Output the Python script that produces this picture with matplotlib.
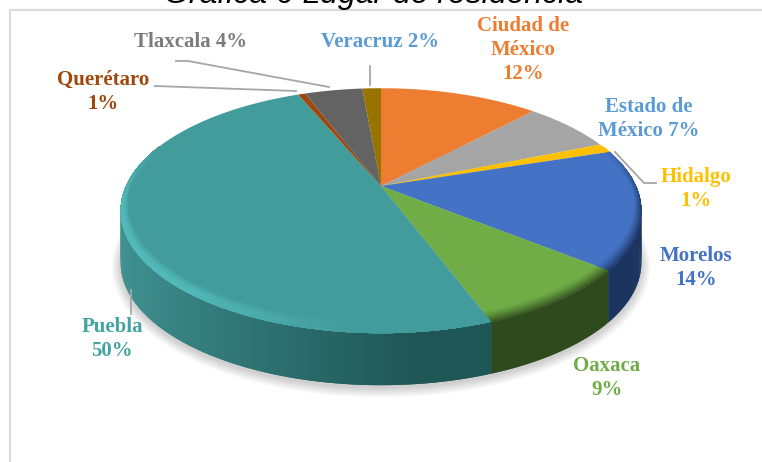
import numpy as np
import matplotlib
matplotlib.use("Agg")
import matplotlib.pyplot as plt
from matplotlib.colors import to_rgb

# slice sizes as measured on the picture, clockwise from 12 o'clock
places = ["Ciudad de\nMéxico\n12%", "Estado de\nMéxico 7%", "Hidalgo\n1%", "Morelos\n14%",
          "Oaxaca\n9%", "Puebla\n50%", "Querétaro\n1%", "Tlaxcala 4%", "Veracruz 2%"]
sizes = [12.0, 6.8, 1.2, 15.8, 8.5, 49.4, 0.55, 4.35, 1.4]
colors = ["#ed7d31", "#a5a5a5", "#ffc000", "#4472c4", "#70ad47", "#439c9c", "#9e480e", "#636363", "#997300"]
side_colors = ["#8a4a1c", "#606060", "#94700a", "#1c3560", "#2f4a1d", "#1f5656", "#5c2a08", "#3a3a3a", "#594300"]
label_colors = ["#ed7d31", "#5b9bd5", "#ffc000", "#4472c4", "#70ad47", "#43a2a2", "#9e480e", "#7b7b7b", "#5b9bd5"]

label_x = [523, 649, 696, 696, 607, 112, 103, 191, 380]
label_y = [50, 119, 189, 268, 378, 339, 92, 42, 42]

cx, cy = 381, 186
R, b, k = 255, 117.5, 0.2017
depth = 52


def project(a, r=1.0, drop=0):
    x = r * np.sin(a)
    y = r * np.cos(a)
    w = 1 + k * y
    return cx + R * x / w, cy - b * y / w + drop


fig = plt.figure(figsize=(7.62, 4.62), dpi=100)
ax = fig.add_axes([0, 0, 1, 1])
ax.set_xlim(0, 762)
ax.set_ylim(462, 0)
ax.axis("off")

# chart frame, cut by the page at the bottom
ax.plot([10, 10, 762], [462, 10, 10], color="#dcdcdc", lw=1.6, solid_joinstyle="miter", zorder=1)

# soft shadow under the pie
t = np.linspace(0, 2 * np.pi, 300)
sx, sy = project(t, 1.0, depth)
mx, my = sx.mean(), sy.mean()
for grow in np.linspace(1.07, 1.0, 12):
    ax.fill(mx + (sx - mx) * (1 + (grow - 1) * 0.5), my + (sy - my) * grow + 3,
            color="#000000", alpha=0.016, lw=0, zorder=2)

edges = np.cumsum([0] + sizes) / sum(sizes) * 2 * np.pi

# side wall, only the part that faces the viewer
for i in range(len(sizes)):
    a0, a1 = edges[i], edges[i + 1]
    steps = max(int((a1 - a0) / 0.01), 2)
    aa = np.linspace(a0, a1, steps + 1)
    for j in range(steps):
        mid = (aa[j] + aa[j + 1]) / 2
        if np.cos(mid) > 0.12:
            continue
        pair = aa[j:j + 3]
        xa, ya = project(pair)
        xb, yb = project(pair, 1.0, depth)
        col = np.array(to_rgb(side_colors[i]))
        if i == 5:
            # Puebla wall goes from mid teal on the left to dark at the front
            f = np.clip(-np.sin(mid) + 0.1, 0, 1)
            col = col + (np.array(to_rgb("#3f8f8f")) - col) * f
        ax.fill(np.r_[xa, xb[::-1]], np.r_[ya, yb[::-1]], color=col, lw=0, zorder=3)

# top face
for i in range(len(sizes)):
    aa = np.linspace(edges[i], edges[i + 1], 120)
    xs, ys = project(aa)
    ax.fill(np.r_[cx, xs], np.r_[cy, ys], color=colors[i], lw=0, zorder=4)

# bevel along the rim of the front half, painted inner ring first
for u in np.linspace(0, 0.95, 12):
    for i in range(len(sizes)):
        a0, a1 = edges[i], edges[i + 1]
        steps = max(int((a1 - a0) / 0.02), 2)
        aa = np.linspace(a0, a1, steps + 1)
        base = np.array(to_rgb(colors[i]))
        for j in range(steps):
            mid = (aa[j] + aa[j + 1]) / 2
            front = np.clip(-np.cos(mid) + 0.35, 0, 1)
            if front <= 0:
                continue
            if i == 5:
                # light band up to the rim, fades out towards the front right
                tone = np.array([0.33, 0.74, 0.74])
                al = 0.85 * np.sin(np.pi / 2 * min(u / 0.7, 1)) * np.clip(-np.sin(mid) * 1.8 - 0.15, 0, 1) * min(front * 2, 1)
            else:
                tone = np.array(to_rgb(side_colors[i]))
                al = 0.9 * u ** 1.3 * min(front * 2, 1)
            width = 0.07 * (0.3 + 0.7 * abs(np.cos(mid)))
            pair = aa[j:j + 3]
            xa, ya = project(pair, 1 - width * (1 - u))
            xb, yb = project(pair, 1.0)
            ax.fill(np.r_[xa, xb[::-1]], np.r_[ya, yb[::-1]],
                    color=base + (tone - base) * float(al), lw=0, zorder=5)

# leader lines
leader = dict(color="#a6a6a6", lw=1.3, zorder=6)
ax.plot([176, 188, 329], [61, 61, 87], **leader)
ax.plot([155, 296], [86, 91], **leader)
ax.plot([370, 370], [66, 85], **leader)
ax.plot([615, 644, 656], [152, 183, 183], **leader)
ax.plot([131, 131], [290, 314], **leader)

for name, x, y, c in zip(places, label_x, label_y, label_colors):
    ax.text(x, y, name, color=c, ha="center", va="center", fontsize=15,
            family="Liberation Serif", weight="bold", linespacing=1.28, zorder=7)

ax.text(373, 3, "Gráfica 6 Lugar de residencia", ha="center", va="baseline", fontsize=23,
        family="Liberation Sans", style="italic", color="black", zorder=7)

fig.savefig("out.png", dpi=100)
